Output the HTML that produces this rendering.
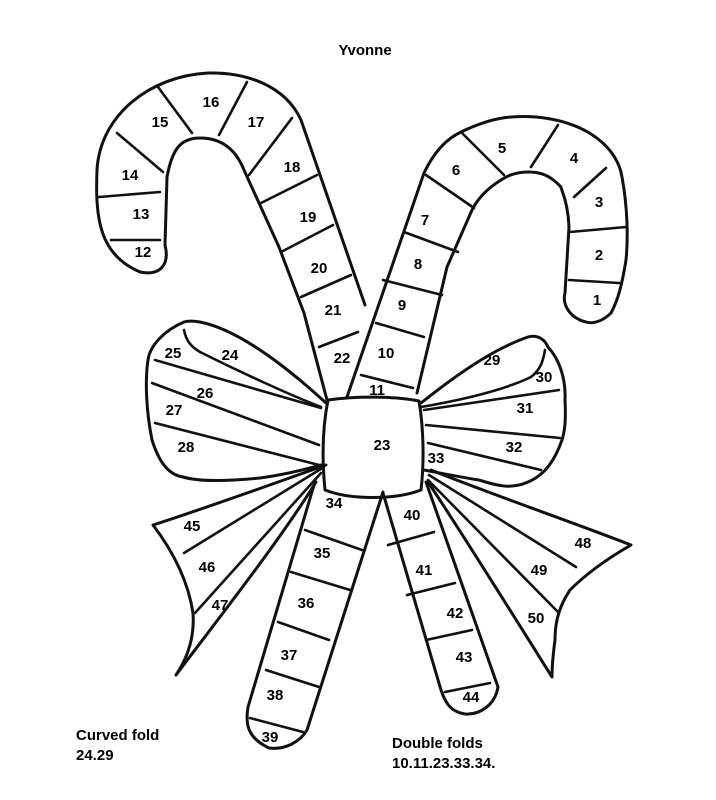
<!DOCTYPE html>
<html><head><style>
html,body{margin:0;padding:0;background:#fff}
svg{display:block}
text{font-family:"Liberation Sans",sans-serif;font-weight:bold;font-size:15px;fill:#000;text-anchor:middle}
.s{fill:none;stroke:#111;stroke-width:3;stroke-linecap:round;stroke-linejoin:round}
.t{fill:none;stroke:#111;stroke-width:2.6;stroke-linecap:round}
</style></head><body>
<svg width="716" height="800" viewBox="0 0 716 800">
<rect width="716" height="800" fill="#fff"/>
<text x="365" y="55">Yvonne</text>

<!-- Left cane -->
<path class="s" d="M365 305 L301 120 C285 85 245 72 208 73 C150 76 100 115 97 170 C95 220 100 255 140 272 C160 276 170 265 165 245 L167 177 C172 150 180 138 200 138 C222 138 236 150 244 170 L279 247 L304 313 L327 400"/>
<g class="t">
<line x1="111" y1="240" x2="160" y2="240"/>
<line x1="99" y1="197" x2="160" y2="192"/>
<line x1="117" y1="133" x2="163" y2="172"/>
<line x1="158" y1="87" x2="192" y2="133"/>
<line x1="247" y1="82" x2="219" y2="135"/>
<line x1="292" y1="118" x2="249" y2="175"/>
<line x1="317" y1="175" x2="261" y2="203"/>
<line x1="333" y1="225" x2="281" y2="252"/>
<line x1="351" y1="275" x2="301" y2="297"/>
<line x1="358" y1="332" x2="319" y2="347"/>
</g>

<!-- Right cane -->
<path class="s" d="M347 397 L424 173 C435 150 448 138 461 132 C490 118 510 115 536 117 C590 122 618 150 622 177 C628 210 628 240 626 260 C622 285 618 300 611 313 C602 322 592 324 586 322 C570 318 562 305 565 293 L569 227 C568 200 560 187 561 187 C550 175 540 172 529 172 C515 172 507 176 501 180 C488 188 478 198 472 210 L447 267 L417 393"/>
<g class="t">
<line x1="426" y1="175" x2="474" y2="208"/>
<line x1="461" y1="132" x2="504" y2="175"/>
<line x1="558" y1="125" x2="531" y2="167"/>
<line x1="606" y1="168" x2="574" y2="197"/>
<line x1="570" y1="232" x2="626" y2="227"/>
<line x1="569" y1="280" x2="619" y2="283"/>
<line x1="404" y1="232" x2="458" y2="252"/>
<line x1="383" y1="280" x2="442" y2="295"/>
<line x1="376" y1="323" x2="424" y2="337"/>
<line x1="361" y1="375" x2="413" y2="388"/>
</g>

<!-- Left loop -->
<path class="s" d="M326 403 C290 370 240 330 200 322 C190 320 184 322 184 322 C165 330 150 345 148 360 C145 380 146 410 152 440 C160 465 170 475 183 477 C200 482 230 481 260 478 C290 474 310 468 321 465"/>
<g class="t">
<path d="M184 330 C186 340 190 346 200 352 C240 372 290 395 321 407"/>
<line x1="155" y1="360" x2="321" y2="408"/>
<line x1="152" y1="383" x2="319" y2="445"/>
<line x1="155" y1="423" x2="319" y2="465"/>
</g>

<!-- Right loop -->
<path class="s" d="M421 403 C450 380 490 350 528 337 C538 334 545 340 548 347 C560 360 566 380 565 400 C566 420 565 430 562 440 C555 460 545 475 528 482 C510 490 495 485 479 480 C460 477 440 473 424 470"/>
<g class="t">
<path d="M545 350 C543 362 540 370 531 377 C500 392 450 402 421 407"/>
<line x1="559" y1="390" x2="424" y2="410"/>
<line x1="426" y1="425" x2="560" y2="438"/>
<line x1="428" y1="443" x2="541" y2="470"/>
</g>

<!-- Knot -->
<path class="s" d="M328 400 C355 396 395 396 419 401 C424 430 424 465 421 490 C395 500 350 500 325 490 C322 460 322 430 328 400 Z"/>

<!-- Left tail -->
<path class="s" d="M326 465 C270 485 200 510 153 525 C172 550 188 580 193 613 C195 640 186 660 176 675 C225 610 280 540 316 482"/>
<g class="t">
<line x1="324" y1="467" x2="184" y2="553"/>
<line x1="321" y1="473" x2="195" y2="613"/>
</g>

<!-- Right tail -->
<path class="s" d="M431 470 C480 490 580 525 631 545 C605 560 585 575 570 590 C560 605 555 620 555 640 C553 655 552 668 552 677 C510 610 460 530 428 482"/>
<g class="t">
<line x1="429" y1="475" x2="576" y2="567"/>
<line x1="428" y1="480" x2="559" y2="613"/>
</g>

<!-- Lower left stick -->
<path class="s" d="M314 485 L248 707 C245 725 248 738 269 748 C285 750 300 742 307 730 L383 492"/>
<g class="t">
<line x1="305" y1="530" x2="362" y2="550"/>
<line x1="291" y1="572" x2="350" y2="590"/>
<line x1="278" y1="622" x2="329" y2="640"/>
<line x1="266" y1="670" x2="319" y2="687"/>
<line x1="250" y1="718" x2="303" y2="732"/>
</g>

<!-- Lower right stick -->
<path class="s" d="M383 493 L441 690 C446 705 452 712 465 714 C480 715 495 705 498 687 L426 482"/>
<g class="t">
<line x1="388" y1="545" x2="434" y2="532"/>
<line x1="407" y1="595" x2="455" y2="583"/>
<line x1="426" y1="640" x2="472" y2="630"/>
<line x1="445" y1="692" x2="490" y2="683"/>
</g>

<!-- Numbers -->
<text x="143" y="257">12</text><text x="141" y="219">13</text><text x="130" y="180">14</text>
<text x="160" y="127">15</text><text x="211" y="107">16</text><text x="256" y="127">17</text>
<text x="292" y="172">18</text><text x="308" y="222">19</text><text x="319" y="273">20</text>
<text x="333" y="315">21</text><text x="342" y="363">22</text>
<text x="425" y="225">7</text><text x="418" y="269">8</text><text x="402" y="310">9</text>
<text x="386" y="358">10</text><text x="377" y="395">11</text>
<text x="456" y="175">6</text><text x="502" y="153">5</text><text x="574" y="163">4</text>
<text x="599" y="207">3</text><text x="599" y="260">2</text><text x="597" y="305">1</text>
<text x="173" y="358">25</text><text x="230" y="360">24</text><text x="205" y="398">26</text>
<text x="174" y="415">27</text><text x="186" y="452">28</text>
<text x="492" y="365">29</text><text x="544" y="382">30</text><text x="525" y="413">31</text>
<text x="514" y="452">32</text><text x="436" y="463">33</text>
<text x="382" y="450">23</text>
<text x="334" y="508">34</text><text x="322" y="558">35</text><text x="306" y="608">36</text>
<text x="289" y="660">37</text><text x="275" y="700">38</text><text x="270" y="742">39</text>
<text x="412" y="520">40</text><text x="424" y="575">41</text><text x="455" y="618">42</text>
<text x="464" y="662">43</text><text x="471" y="702">44</text>
<text x="192" y="531">45</text><text x="207" y="572">46</text><text x="220" y="610">47</text>
<text x="583" y="548">48</text><text x="539" y="575">49</text><text x="536" y="623">50</text>

<text x="76" y="740" style="text-anchor:start">Curved fold</text>
<text x="76" y="760" style="text-anchor:start">24.29</text>
<text x="392" y="748" style="text-anchor:start">Double folds</text>
<text x="392" y="768" style="text-anchor:start">10.11.23.33.34.</text>
</svg>
</body></html>
